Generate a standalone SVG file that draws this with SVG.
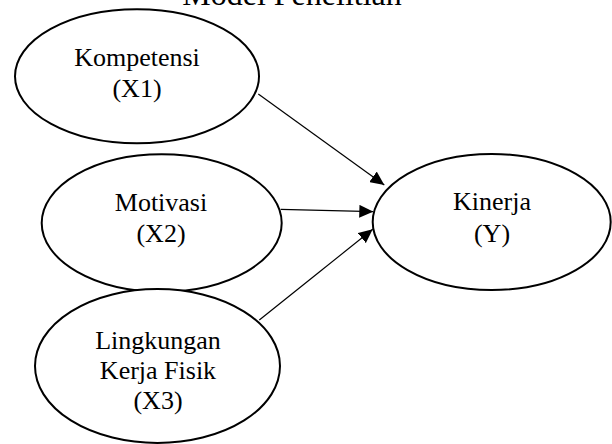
<svg xmlns="http://www.w3.org/2000/svg" width="612" height="444" viewBox="0 0 612 444">
<style>
.node ellipse{fill:#fff;stroke:#000;stroke-width:2}
text{font-family:"Liberation Serif","Times New Roman",serif;font-size:26px;fill:#000;text-anchor:middle}
.title{font-size:32px}
.edge{stroke:#000;stroke-width:1.2;fill:none}
</style>
<defs>
<marker id="arr" markerUnits="userSpaceOnUse" markerWidth="14" markerHeight="13" refX="14" refY="6.5" orient="auto">
<path d="M0,0 L14,6.5 L0,13 z" fill="#000"/>
</marker>
</defs>
<text class="title" x="292" y="5">Model Penelitian</text>
<g id="connectors">
<line class="edge" x1="258.3" y1="94" x2="384.3" y2="185" marker-end="url(#arr)"/>
<line class="edge" x1="280.7" y1="209.3" x2="373.3" y2="211.7" marker-end="url(#arr)"/>
<line class="edge" x1="259.3" y1="320" x2="372.7" y2="229.3" marker-end="url(#arr)"/>
</g>
<g id="x1" class="node">
<ellipse cx="137" cy="76.3" rx="122" ry="67"/>
<text x="137" y="65.7">Kompetensi</text>
<text x="137" y="97.3">(X1)</text>
</g>
<g id="x2" class="node">
<ellipse cx="161.7" cy="223" rx="120" ry="68.7"/>
<text x="161" y="210.7">Motivasi</text>
<text x="161" y="241.7">(X2)</text>
</g>
<g id="x3" class="node">
<ellipse cx="157.5" cy="366" rx="122.5" ry="77"/>
<text x="158" y="349">Lingkungan</text>
<text x="158" y="379.3">Kerja Fisik</text>
<text x="158" y="409.3">(X3)</text>
</g>
<g id="y" class="node">
<ellipse cx="491.7" cy="222" rx="119" ry="68"/>
<text x="492" y="210">Kinerja</text>
<text x="492" y="242.3">(Y)</text>
</g>
</svg>
